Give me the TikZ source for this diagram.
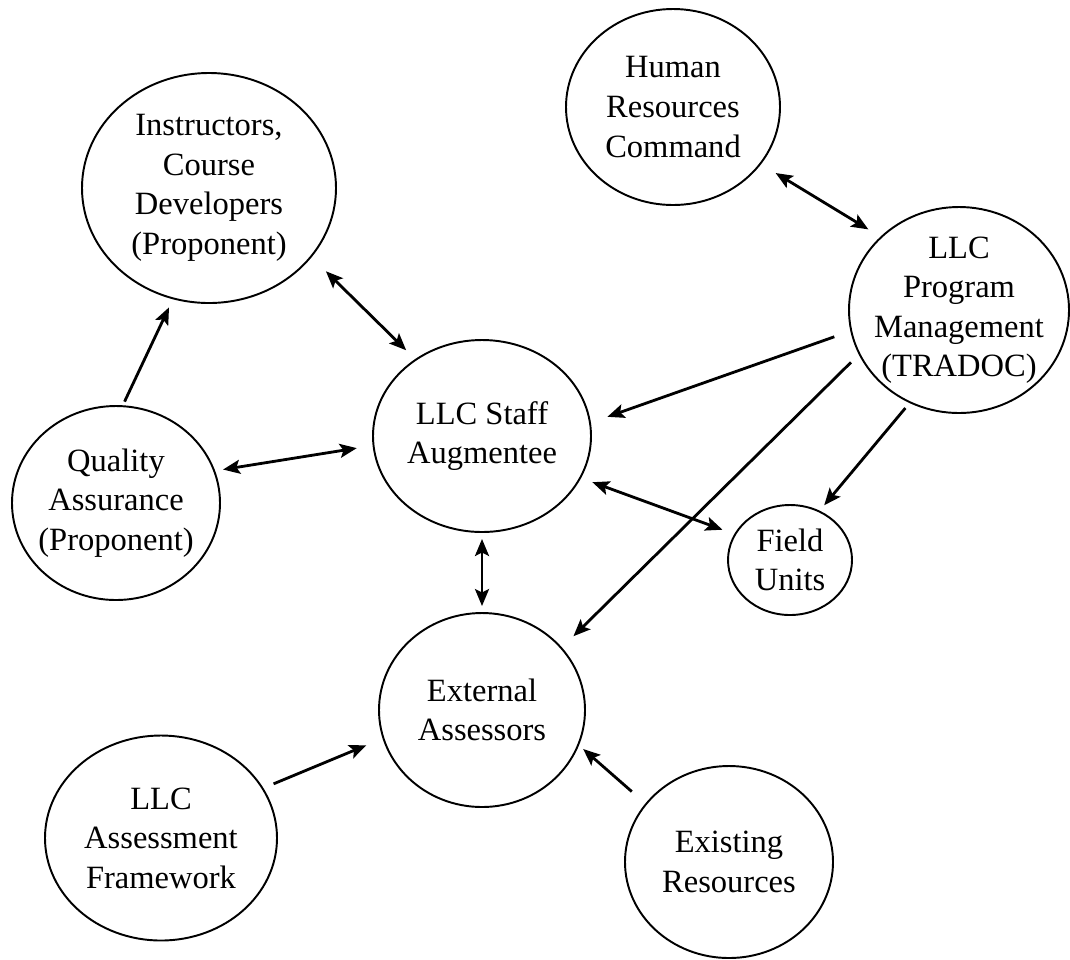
\documentclass[tikz,border=0pt]{standalone}
\usepackage{fontspec}
\setmainfont{Liberation Serif}
\usetikzlibrary{shapes.geometric,arrows.meta}

\begin{document}
\begin{tikzpicture}[x=0.2mm,y=-0.2mm,
  bub/.style={draw, ellipse, line width=1.1pt, inner sep=-5mm, align=center,
    font=\fontsize{18.5}{22.5}\selectfont},
  conn/.style={line width=1.6pt, -{Stealth[length=3.4mm,width=2.8mm,inset=0.7mm]}},
  biconn/.style={line width=1.6pt, {Stealth[length=3.4mm,width=2.8mm,inset=0.7mm]}-{Stealth[length=3.4mm,width=2.8mm,inset=0.7mm]}}]
  \useasboundingbox (0,0) rectangle (1070,959);

  \node [bub, minimum width=50.8mm, minimum height=46mm] (instr) at (209,188) {Instructors,\\Course\\Developers\\(Proponent)};
  \node [bub, minimum width=42.8mm, minimum height=39.2mm] (hrc) at (673,107) {Human\\Resources\\Command};
  \node [bub, minimum width=44mm, minimum height=41.2mm] (pm) at (959,310) {LLC\\Program\\Management\\(TRADOC)};
  \node [bub, minimum width=43.6mm, minimum height=38.4mm] (staff) at (482,436) {LLC Staff\\Augmentee};
  \node [bub, minimum width=41.6mm, minimum height=38.8mm] (qa) at (116,503) {Quality\\Assurance\\(Proponent)};
  \node [bub, minimum width=24.8mm, minimum height=22mm] (field) at (790,560) {Field\\Units};
  \node [bub, minimum width=41.2mm, minimum height=38.8mm] (ext) at (482,710) {External\\Assessors};
  \node [bub, minimum width=46.4mm, minimum height=41mm] (laf) at (161,838) {LLC\\Assessment\\Framework};
  \node [bub, minimum width=41.6mm, minimum height=38.4mm] (exist) at (729,862) {Existing\\Resources};

  \draw [conn, shorten <=0.8mm, shorten >=1.8mm] (qa.86) -- (instr.252.7);
  \draw [biconn, shorten <=4mm, shorten >=2.5mm] (instr.-34) -- (staff.131);
  \draw [biconn, shorten <=1.6mm, shorten >=3.2mm] (qa.18) -- (staff.185.5);
  \draw [biconn, shorten <=3.4mm, shorten >=2.8mm] (hrc.-33) -- (pm.137.7);
  \draw [conn, shorten <=3.4mm, shorten >=3.5mm] (pm.191.4) -- (staff.7.3);
  \draw [conn, shorten <=2.2mm, shorten >=3.2mm] (pm.204.6) -- (ext.38);
  \draw [conn, shorten <=1.3mm, shorten >=1.4mm] (pm.242) -- (field.59.8);
  \draw [biconn, shorten <=2.4mm, shorten >=2.5mm] (staff.-23.3) -- (field.155.9);
  \draw [biconn, shorten <=1.2mm, shorten >=1.2mm] (staff.south) -- (ext.north);
  \draw [conn, shorten <=2.2mm, shorten >=3.5mm] (laf.26.8) -- (ext.196.9);
  \draw [conn, shorten <=3.6mm, shorten >=1.1mm] (exist.145.9) -- (ext.-20.6);
\end{tikzpicture}
\end{document}
